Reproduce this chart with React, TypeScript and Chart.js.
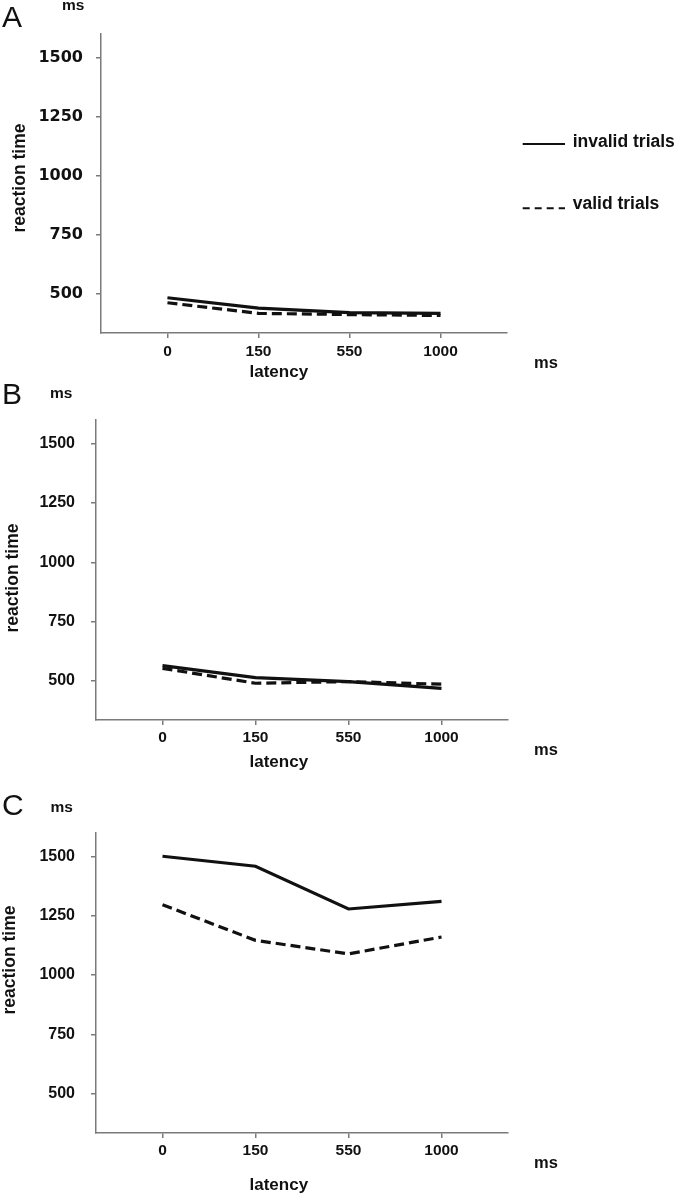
import React, { useEffect, useRef } from "react";
import { Chart, registerables } from "chart.js";

Chart.register(...registerables);

// ---- data ----
const latencyLabels = ["0", "150", "550", "1000"];
const yTickValues = [500, 750, 1000, 1250, 1500];
const seriesNames = ["invalid trials", "valid trials"];

const invalidA = [484, 440, 421, 418];
const validA = [463, 418, 413, 409];
const invalidB = [564, 514, 497, 468];
const validB = [553, 490, 497, 486];
const invalidC = [1500, 1458, 1278, 1310];
const validC = [1296, 1146, 1089, 1160];

const panelLetters = ["A", "B", "C"];
const unitLabel = "ms";
const xTitle = "latency";
const yTitle = "reaction time";

// ---- layout (positions/styles) ----
const SANS = "'Liberation Sans', Arial, Helvetica, sans-serif";
const INK = "#111";
const AXIS = "#7a7a7a";

type Panel = {
  letter: string;
  top: number;
  height: number;
  invalid: number[];
  valid: number[];
  padTop: number;
  padRight: number;
  yWidth: number;
  xHeight: number;
  xMin: number;
  xMax: number;
  yTickFamily: string;
  yTickPad: number;
  xTickPad: number;
  letterPos: [number, number];
  msTop: [number, number];
  msRight: [number, number];
  latency: [number, number];
  rt: [number, number];
  legend: boolean;
};

const panels: Panel[] = [
  {
    letter: panelLetters[0], top: 0, height: 385, invalid: invalidA, valid: validA,
    padTop: 34, padRight: 168, yWidth: 101, xHeight: 52, xMin: -0.73, xMax: 3.73,
    yTickFamily: "'DejaVu Sans', sans-serif", yTickPad: 13, xTickPad: 4,
    letterPos: [2, 26.5], msTop: [62, 9.5], msRight: [534, 368], latency: [249.5, 377], rt: [25, 178],
    legend: true,
  },
  {
    letter: panelLetters[1], top: 375, height: 410, invalid: invalidB, valid: validB,
    padTop: 45, padRight: 167, yWidth: 96, xHeight: 65, xMin: -0.715, xMax: 3.715,
    yTickFamily: SANS, yTickPad: 16, xTickPad: 3,
    letterPos: [2, 28.5], msTop: [50, 23], msRight: [534, 380], latency: [249.5, 392], rt: [18, 203],
    legend: false,
  },
  {
    letter: panelLetters[2], top: 785, height: 414, invalid: invalidC, valid: validC,
    padTop: 47.5, padRight: 167, yWidth: 96, xHeight: 66, xMin: -0.715, xMax: 3.715,
    yTickFamily: SANS, yTickPad: 16, xTickPad: 3,
    letterPos: [2, 30], msTop: [50.5, 27], msRight: [534, 383], latency: [249.5, 405], rt: [15, 175],
    legend: false,
  },
];

function makeExtras(p: Panel) {
  return {
    id: "panelExtras" + p.letter,
    afterDraw(chart: any) {
      const ctx = chart.ctx as CanvasRenderingContext2D;
      ctx.save();
      ctx.fillStyle = INK;
      ctx.textBaseline = "alphabetic";
      ctx.textAlign = "left";
      // panel letter
      ctx.font = `normal 30px ${SANS}`;
      ctx.fillText(p.letter, p.letterPos[0], p.letterPos[1]);
      // units
      ctx.font = `bold 15.5px ${SANS}`;
      ctx.fillText(unitLabel, p.msTop[0], p.msTop[1]);
      ctx.font = `bold 16.5px ${SANS}`;
      ctx.fillText(unitLabel, p.msRight[0], p.msRight[1]);
      // x title
      ctx.font = `bold 17px ${SANS}`;
      ctx.fillText(xTitle, p.latency[0], p.latency[1]);
      // y title
      ctx.save();
      ctx.translate(p.rt[0], p.rt[1]);
      ctx.rotate(-Math.PI / 2);
      ctx.textAlign = "center";
      ctx.font = `bold 17.5px ${SANS}`;
      ctx.fillText(yTitle, 0, 0);
      ctx.restore();
      // legend
      if (p.legend) {
        const rows = [144, 208.3];
        const textY = [146.7, 209.3];
        chart.data.datasets.forEach((ds: any, i: number) => {
          ctx.save();
          ctx.strokeStyle = INK;
          ctx.lineWidth = 2;
          ctx.setLineDash(ds.borderDash && ds.borderDash.length ? [7, 5] : []);
          ctx.beginPath();
          ctx.moveTo(522.7, rows[i]);
          ctx.lineTo(565, rows[i]);
          ctx.stroke();
          ctx.restore();
          ctx.font = `bold 17.5px ${SANS}`;
          ctx.fillText(ds.label, 572.7, textY[i]);
        });
      }
      ctx.restore();
    },
  };
}

function PanelChart({ p }: { p: Panel }) {
  const ref = useRef<HTMLCanvasElement | null>(null);
  useEffect(() => {
    if (!ref.current) return;
    const chart = new Chart(ref.current, {
      type: "line",
      data: {
        datasets: [
          {
            label: seriesNames[0],
            data: p.invalid.map((v, i) => ({ x: i, y: v })),
            borderColor: INK,
            borderWidth: 3.2,
            pointRadius: 0,
            fill: false,
            tension: 0,
          },
          {
            label: seriesNames[1],
            data: p.valid.map((v, i) => ({ x: i, y: v })),
            borderColor: INK,
            borderWidth: 3.2,
            borderDash: [10, 5],
            pointRadius: 0,
            fill: false,
            tension: 0,
          },
        ],
      },
      options: {
        animation: false,
        responsive: false,
        maintainAspectRatio: false,
        layout: { padding: { top: p.padTop, right: p.padRight, left: 0, bottom: 0 } },
        plugins: { legend: { display: false }, tooltip: { enabled: false } },
        scales: {
          x: {
            type: "linear",
            min: p.xMin,
            max: p.xMax,
            afterBuildTicks: (s: any) => {
              s.ticks = latencyLabels.map((_, i) => ({ value: i }));
            },
            afterFit: (s: any) => {
              s.height = p.xHeight;
            },
            ticks: {
              autoSkip: false,
              maxRotation: 0,
              padding: p.xTickPad,
              color: INK,
              font: { family: SANS, size: 15.5, weight: "bold" },
              callback: (v: any) => latencyLabels[v] ?? "",
            },
            grid: { drawOnChartArea: false, drawTicks: true, tickLength: 5, color: AXIS, lineWidth: 1.5 },
            border: { display: true, color: AXIS, width: 1.5 },
          },
          y: {
            type: "linear",
            min: 335,
            max: 1600,
            afterBuildTicks: (s: any) => {
              s.ticks = yTickValues.map((v) => ({ value: v }));
            },
            afterFit: (s: any) => {
              s.width = p.yWidth;
            },
            ticks: {
              padding: p.yTickPad,
              color: INK,
              font: { family: p.yTickFamily, size: 16, weight: "bold" },
              callback: (v: any) => String(v),
            },
            grid: { drawOnChartArea: false, drawTicks: true, tickLength: 5, color: AXIS, lineWidth: 1.5 },
            border: { display: true, color: AXIS, width: 1.5 },
          },
        },
      },
      plugins: [makeExtras(p)],
    } as any);
    return () => chart.destroy();
  }, [p]);
  return (
    <canvas
      ref={ref}
      width={675}
      height={p.height}
      style={{ position: "absolute", left: 0, top: p.top, width: 675, height: p.height }}
    />
  );
}

export default function App() {
  return (
    <div
      style={{
        position: "absolute",
        left: 0,
        top: 0,
        width: 675,
        height: 1199,
        background: "#fff",
        overflow: "hidden",
      }}
    >
      {panels.map((p) => (
        <PanelChart key={p.letter} p={p} />
      ))}
    </div>
  );
}
